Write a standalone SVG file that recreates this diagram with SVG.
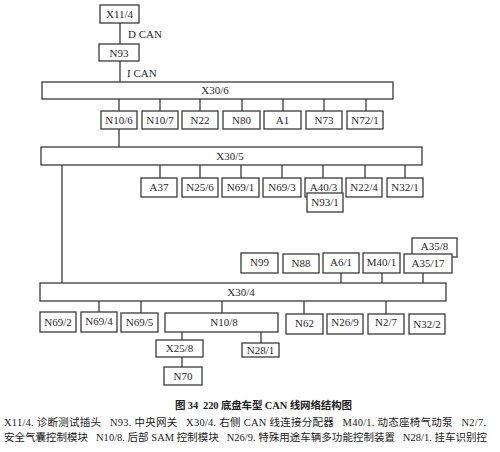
<svg xmlns="http://www.w3.org/2000/svg" width="500" height="452" viewBox="0 0 500 452">
<style>
.b{fill:#fff;stroke:#3a3a3a;stroke-width:1.3}
.t{font-family:"Liberation Serif",serif;font-size:11px;fill:#2a2a2a;text-anchor:middle}
.l{font-family:"Liberation Serif",serif;font-size:11px;fill:#2a2a2a}
.c line{stroke:#3a3a3a;stroke-width:1.3}
.cap{font-family:"Liberation Serif","Noto Sans CJK SC",serif;font-size:10.5px;fill:#222;white-space:pre}
</style>
<rect width="500" height="452" fill="#fff"/>
<g class="c" id="connectors">
<line x1="120" y1="23" x2="120" y2="44"/>
<line x1="120" y1="61" x2="120" y2="82"/>
<line x1="119" y1="99" x2="119" y2="147"/>
<line x1="160" y1="99" x2="160" y2="111"/>
<line x1="200" y1="99" x2="200" y2="111"/>
<line x1="242" y1="99" x2="242" y2="111"/>
<line x1="283" y1="99" x2="283" y2="111"/>
<line x1="324" y1="99" x2="324" y2="111"/>
<line x1="366" y1="99" x2="366" y2="111"/>
<line x1="62" y1="165" x2="62" y2="283"/>
<line x1="160" y1="165" x2="160" y2="178"/>
<line x1="200" y1="165" x2="200" y2="178"/>
<line x1="241" y1="165" x2="241" y2="178"/>
<line x1="282" y1="165" x2="282" y2="178"/>
<line x1="323" y1="165" x2="323" y2="178"/>
<line x1="365" y1="165" x2="365" y2="178"/>
<line x1="405" y1="165" x2="405" y2="178"/>
<line x1="341" y1="273" x2="341" y2="283"/>
<line x1="382" y1="273" x2="382" y2="283"/>
<line x1="423" y1="273" x2="423" y2="283"/>
<line x1="99" y1="301" x2="99" y2="313"/>
<line x1="141" y1="301" x2="141" y2="313"/>
<line x1="222" y1="301" x2="222" y2="313"/>
<line x1="304" y1="301" x2="304" y2="314"/>
<line x1="386" y1="301" x2="386" y2="314"/>
<line x1="182" y1="332" x2="182" y2="340"/>
<line x1="261" y1="332" x2="261" y2="343"/>
<line x1="182" y1="357" x2="182" y2="367"/>
</g>
<text class="l" x="128" y="38">D CAN</text>
<text class="l" x="127" y="77">I CAN</text>
<g id="X11-4"><rect class="b" x="100" y="5" width="39" height="18"/><text class="t" x="119.5" y="18">X11/4</text></g>
<g id="N93"><rect class="b" x="99" y="44" width="40" height="17"/><text class="t" x="119" y="57">N93</text></g>
<g id="X30-6"><rect class="b" x="42" y="82" width="351" height="17"/><text class="t" x="215" y="94">X30/6</text></g>
<g id="N10-6"><rect class="b" x="101" y="111" width="36" height="18"/><text class="t" x="119" y="124">N10/6</text></g>
<g id="N10-7"><rect class="b" x="142" y="111" width="36" height="18"/><text class="t" x="160" y="124">N10/7</text></g>
<g id="N22"><rect class="b" x="182" y="111" width="36" height="18"/><text class="t" x="200" y="124">N22</text></g>
<g id="N80"><rect class="b" x="223" y="111" width="37" height="18"/><text class="t" x="241.5" y="124">N80</text></g>
<g id="A1"><rect class="b" x="264" y="111" width="37" height="18"/><text class="t" x="282.5" y="124">A1</text></g>
<g id="N73"><rect class="b" x="306" y="111" width="36" height="18"/><text class="t" x="324" y="124">N73</text></g>
<g id="N72-1"><rect class="b" x="347" y="111" width="36" height="18"/><text class="t" x="365" y="124">N72/1</text></g>
<g id="X30-5"><rect class="b" x="41" y="147" width="381" height="18"/><text class="t" x="230" y="160">X30/5</text></g>
<g id="A37"><rect class="b" x="141" y="178" width="36" height="19"/><text class="t" x="159" y="191">A37</text></g>
<g id="N25-6"><rect class="b" x="182" y="178" width="36" height="19"/><text class="t" x="200" y="191">N25/6</text></g>
<g id="N69-1"><rect class="b" x="222" y="178" width="37" height="19"/><text class="t" x="240.5" y="191">N69/1</text></g>
<g id="N69-3"><rect class="b" x="263" y="178" width="38" height="19"/><text class="t" x="282" y="191">N69/3</text></g>
<g id="A40-3"><rect class="b" x="305" y="178" width="37" height="19"/><text class="t" x="323.5" y="191">A40/3</text></g>
<g id="N93-1"><rect class="b" x="307" y="193" width="36" height="19"/><text class="t" x="325" y="206">N93/1</text></g>
<g id="N22-4"><rect class="b" x="346" y="178" width="36" height="19"/><text class="t" x="364" y="191">N22/4</text></g>
<g id="N32-1"><rect class="b" x="387" y="178" width="36" height="19"/><text class="t" x="405" y="191">N32/1</text></g>
<g id="A35-8"><rect class="b" x="412" y="238" width="45" height="19"/><text class="t" x="434.5" y="250">A35/8</text></g>
<g id="N99"><rect class="b" x="241" y="253" width="37" height="20"/><text class="t" x="259.5" y="266">N99</text></g>
<g id="N88"><rect class="b" x="283" y="254" width="36" height="19"/><text class="t" x="301" y="267">N88</text></g>
<g id="A6-1"><rect class="b" x="323" y="253" width="36" height="20"/><text class="t" x="341" y="266">A6/1</text></g>
<g id="M40-1"><rect class="b" x="363" y="253" width="37" height="20"/><text class="t" x="381.5" y="266">M40/1</text></g>
<g id="A35-17"><rect class="b" x="404" y="254" width="48" height="19"/><text class="t" x="428" y="267">A35/17</text></g>
<g id="X30-4"><rect class="b" x="40" y="283" width="406" height="18"/><text class="t" x="241" y="296">X30/4</text></g>
<g id="N69-2"><rect class="b" x="40" y="312" width="36" height="20"/><text class="t" x="58" y="326">N69/2</text></g>
<g id="N69-4"><rect class="b" x="81" y="312" width="36" height="20"/><text class="t" x="99" y="325">N69/4</text></g>
<g id="N69-5"><rect class="b" x="121" y="313" width="37" height="19"/><text class="t" x="139.5" y="326">N69/5</text></g>
<g id="N10-8"><rect class="b" x="165" y="313" width="113" height="19"/><text class="t" x="224" y="326">N10/8</text></g>
<g id="N62"><rect class="b" x="286" y="314" width="37" height="20"/><text class="t" x="304.5" y="327">N62</text></g>
<g id="N26-9"><rect class="b" x="327" y="314" width="36" height="20"/><text class="t" x="345" y="326">N26/9</text></g>
<g id="N2-7"><rect class="b" x="368" y="314" width="36" height="20"/><text class="t" x="386" y="326">N2/7</text></g>
<g id="N32-2"><rect class="b" x="409" y="314" width="36" height="20"/><text class="t" x="427" y="328">N32/2</text></g>
<g id="X25-8"><rect class="b" x="156" y="340" width="47" height="17"/><text class="t" x="179.5" y="352">X25/8</text></g>
<g id="N28-1"><rect class="b" x="242" y="343" width="37" height="14"/><text class="t" x="260.5" y="354">N28/1</text></g>
<g id="N70"><rect class="b" x="164" y="367" width="38" height="18"/><text class="t" x="183" y="380">N70</text></g>
<text class="cap" x="175" y="409" font-weight="bold" textLength="177" lengthAdjust="spacing">图 34  220 底盘车型 CAN 线网络结构图</text>
<text class="cap" x="4" y="426" textLength="482" lengthAdjust="spacing">X11/4. 诊断测试插头   N93. 中央网关   X30/4. 右侧 CAN 线连接分配器   M40/1. 动态座椅气动泵   N2/7.</text>
<text class="cap" x="4" y="441" textLength="483" lengthAdjust="spacing">安全气囊控制模块   N10/8. 后部 SAM 控制模块   N26/9. 特殊用途车辆多功能控制装置   N28/1. 挂车识别控</text>
</svg>
